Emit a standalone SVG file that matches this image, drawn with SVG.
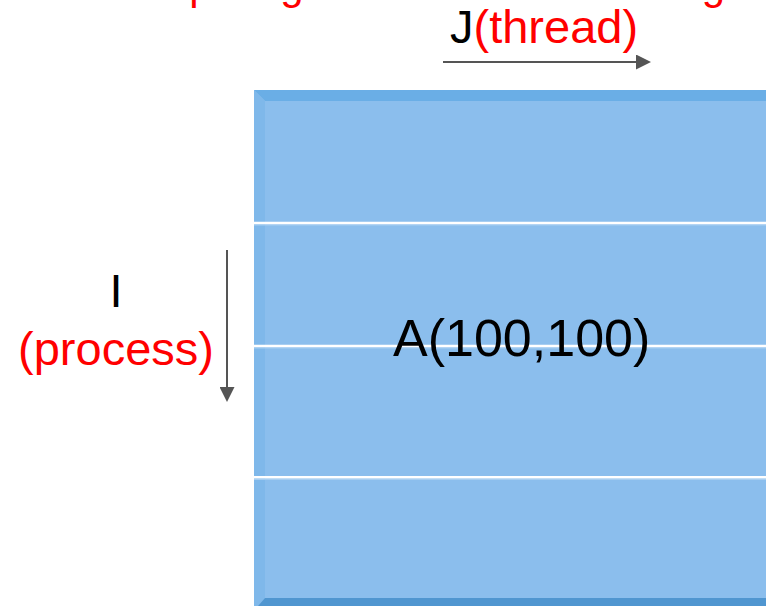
<svg xmlns="http://www.w3.org/2000/svg" width="766" height="606" viewBox="0 0 766 606">
  <style>
    .txt { font-family: "Liberation Sans", Arial, sans-serif; }
    .red { fill: #ff0000; }
    .blk { fill: #000000; }
    .axis { stroke: #555555; stroke-width: 2; fill: none; }
    .row-sep { stroke: #ffffff; stroke-width: 2.6; }
    .row-glow { stroke: #a8cff2; stroke-width: 1; }
  </style>
  <defs>
    <marker id="head" viewBox="0 0 15 15" refX="0" refY="7.5" markerWidth="15" markerHeight="15" markerUnits="userSpaceOnUse" orient="auto">
      <path d="M0,0 L15,7.5 L0,15 Z" fill="#555555"/>
    </marker>
  </defs>

  <!-- heading (runs above the top edge) -->
  <g id="title">
    <text class="txt red" x="100.5" y="-1" font-size="42" word-spacing="2.6">Computing the 2D matrix A using</text>
  </g>

  <!-- array A drawn as a bevelled block split into row bands -->
  <g id="matrix">
    <rect x="254" y="90" width="512" height="516" fill="#8bbeed"/>
    <polygon points="254,90 766,90 766,101 265,101" fill="#6aaee6"/>
    <polygon points="254,90 265,101 265,598 258,606 254,606" fill="#7fb8ea"/>
    <polygon points="258,606 265,598 766,598 766,606" fill="#5096d0"/>
    <line class="row-glow" x1="254" y1="225" x2="766" y2="225"/>
    <line class="row-glow" x1="254" y1="348" x2="766" y2="348"/>
    <line class="row-glow" x1="254" y1="479.5" x2="766" y2="479.5"/>
    <line class="row-sep" x1="254" y1="223" x2="766" y2="223"/>
    <line class="row-sep" x1="254" y1="346" x2="766" y2="346"/>
    <line class="row-sep" x1="254" y1="477.3" x2="766" y2="477.3"/>
    <text class="txt blk" x="393" y="356" font-size="52">A(100,100)</text>
  </g>

  <!-- index labels -->
  <g id="label-j">
    <text class="txt" x="450" y="43" font-size="47"><tspan class="blk">J</tspan><tspan class="red">(thread)</tspan></text>
  </g>
  <g id="label-i">
    <text class="txt blk" x="116" y="307" font-size="47" text-anchor="middle">I</text>
    <text class="txt red" x="116" y="365" font-size="47" text-anchor="middle">(process)</text>
  </g>

  <!-- direction arrows -->
  <g id="connectors">
    <line class="axis" x1="443" y1="62" x2="636" y2="62" marker-end="url(#head)"/>
    <line class="axis" x1="227" y1="250" x2="227" y2="387" marker-end="url(#head)"/>
  </g>
</svg>
